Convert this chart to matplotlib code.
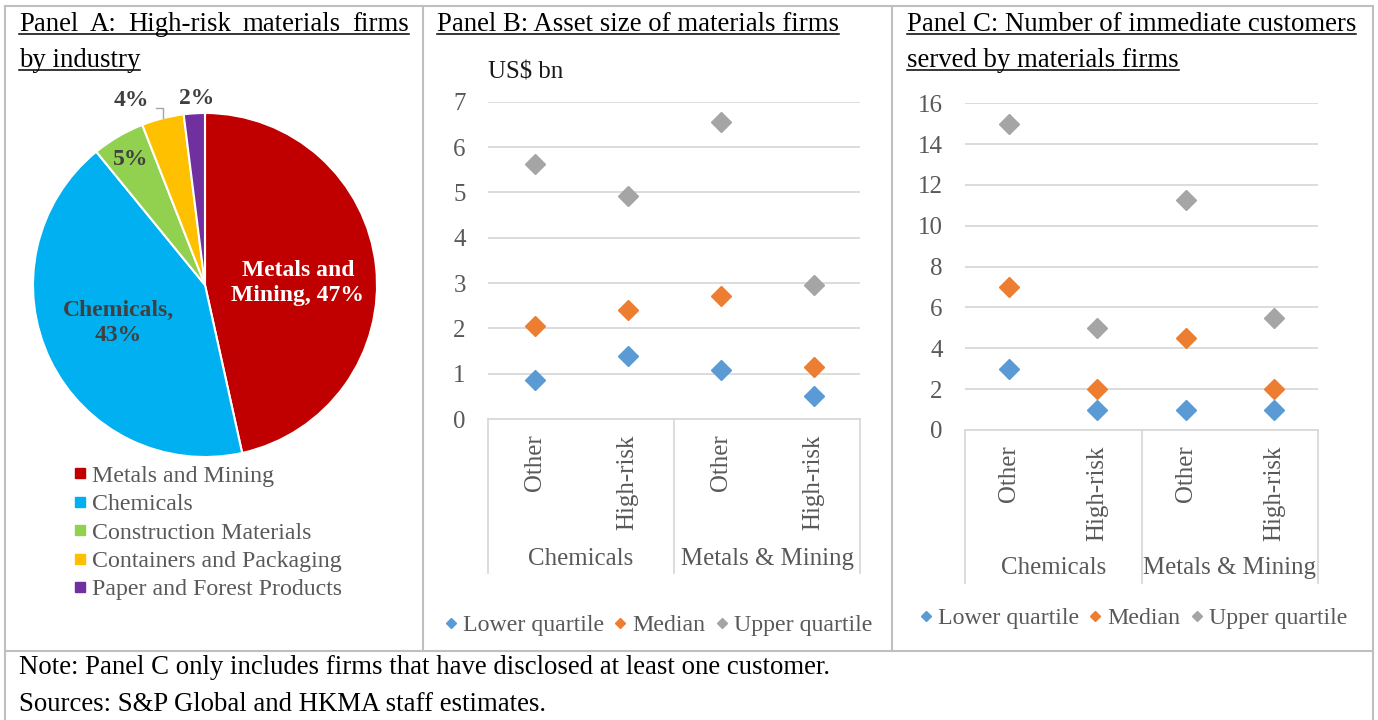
import matplotlib
matplotlib.use('Agg')
import matplotlib.pyplot as plt
from matplotlib.lines import Line2D
import matplotlib.transforms as mtransforms
import numpy as np

W, H = 1378, 720
DPI = 100
plt.rcParams['font.family'] = ['Liberation Serif', 'DejaVu Serif']

# ---------------- data ----------------
industries = ['Metals and Mining', 'Chemicals', 'Construction Materials',
              'Containers and Packaging', 'Paper and Forest Products']
shares = [47, 43, 5, 4, 2]
pie_colors = ['#c00000', '#00b0f0', '#92d050', '#ffc000', '#7030a0']
pie_labels = ['Metals and\nMining, 47%', 'Chemicals,\n43%', '5%', '4%', '2%']

groups = ['Chemicals', 'Metals & Mining']
subcats = ['Other', 'High-risk', 'Other', 'High-risk']
series_names = ['Lower quartile', 'Median', 'Upper quartile']
series_colors = ['#5b9bd5', '#ed7d31', '#a5a5a5']

asset_lower = [0.86, 1.39, 1.08, 0.51]
asset_median = [2.06, 2.41, 2.72, 1.15]
asset_upper = [5.62, 4.91, 6.56, 2.96]
asset_ticks = [0, 1, 2, 3, 4, 5, 6, 7]

cust_lower = [3, 1, 1, 1]
cust_median = [7, 2, 4.5, 2]
cust_upper = [15, 5, 11.25, 5.5]
cust_ticks = [0, 2, 4, 6, 8, 10, 12, 14, 16]

title_a = 'Panel A: High-risk materials firms'
title_a2 = 'by industry'
title_b = 'Panel B: Asset size of materials firms'
title_c = 'Panel C: Number of immediate customers'
title_c2 = 'served by materials firms'
note_lines = ['Note: Panel C only includes firms that have disclosed at least one customer.',
              'Sources: S&P Global and HKMA staff estimates.']

# ---------------- figure ----------------
fig = plt.figure(figsize=(W / DPI, H / DPI), dpi=DPI)
fig.patch.set_facecolor('white')
renderer = fig.canvas.get_renderer()

GRID = '#d9d9d9'
TICKC = '#595959'
BORDER = '#bfbfbf'
TITLE_FS = 19.25
TICK_FS = 17.9
LEG_FS = 17.2


def fx(x):
    return x / W


def fy(y):
    return 1 - y / H


def px_axes(x0, y0, x1, y1):
    return fig.add_axes([fx(x0), fy(y1), (x1 - x0) / W, (y1 - y0) / H])


def fig_line(xs, ys, color=BORDER, lw=1.5):
    fig.add_artist(Line2D([fx(x) for x in xs], [fy(y) for y in ys],
                          transform=fig.transFigure, color=color, lw=lw))


# table borders
fig_line([5, 1373], [6, 6])
fig_line([5, 1373], [651, 651])
fig_line([5, 5], [6, 720])
fig_line([1373, 1373], [6, 720])
fig_line([423, 423], [6, 651])
fig_line([892, 892], [6, 651])


def text_width_px(t):
    return t.get_window_extent(renderer).width


def title_line(x, base, text, justify_to=None):
    if justify_to is None:
        t = fig.text(fx(x), fy(base), text, fontsize=TITLE_FS, color='black',
                     va='baseline', ha='left')
        w = text_width_px(t)
    else:
        words = text.split(' ')
        ts = [fig.text(fx(x), fy(base), wd, fontsize=TITLE_FS, color='black',
                       va='baseline', ha='left') for wd in words]
        widths = [text_width_px(t) for t in ts]
        gap = (justify_to - x - sum(widths)) / (len(words) - 1)
        cur = x
        for t, wd in zip(ts, widths):
            t.set_x(fx(cur))
            cur += wd + gap
        w = justify_to - x
    fig_line([x, x + w], [base + 2.5, base + 2.5], color='black', lw=1.1)


title_line(19, 31, title_a, justify_to=409)
title_line(19, 67, title_a2)
title_line(437, 31, title_b)
title_line(907, 31, title_c)
title_line(907, 67, title_c2)

for i, line in enumerate(note_lines):
    fig.text(fx(19), fy(674 + 37 * i), line, fontsize=TITLE_FS, color='black',
             va='baseline', ha='left')

# ---------------- Panel A: pie ----------------
cx, cy, R = 205, 285, 172
axp = px_axes(cx - R, cy - R, cx + R, cy + R)
wedges, _ = axp.pie(shares, colors=pie_colors, startangle=90, counterclock=False,
                    wedgeprops=dict(edgecolor='white', linewidth=1.5))
axp.set_xlim(-1, 1)
axp.set_ylim(-1, 1)
axp.set_aspect('equal')
axp.axis('off')

label_pos = [(0.54, 0.01), (-0.506, -0.22), (-0.43, 0.727), (-0.427, 1.07), (-0.047, 1.087)]
label_cols = ['white', '#404040', '#404040', '#404040', '#404040']
for lab, (lx, ly), lc in zip(pie_labels, label_pos, label_cols):
    axp.text(lx, ly, lab, ha='center', va='center', fontsize=17, fontweight='bold',
             color=lc, linespacing=1.25, clip_on=False)

# leader line for the 4% label
wy = wedges[3]
mid = np.deg2rad((wy.theta1 + wy.theta2) / 2)
ex, ey = np.cos(mid), np.sin(mid)
axp.plot([-0.285, ex, ex], [1.029, 1.029, ey], color='#a6a6a6', lw=1.0, clip_on=False)

handles = [Line2D([], [], ls='none', marker='s', ms=6.5, color=c) for c in pie_colors]
axp.legend(handles, industries, loc='upper left',
           bbox_to_anchor=(fx(73), fy(465)), bbox_transform=fig.transFigure,
           frameon=False, fontsize=LEG_FS, labelcolor=TICKC, handlelength=0.6,
           handletextpad=0.2, borderpad=0, borderaxespad=0, labelspacing=0.28)


# ---------------- Panels B and C ----------------
def scatter_panel(box, lower, median, upper, ticks, box_bottom, group_y, leg_center):
    x0, y0, x1, y1 = box
    ax = px_axes(x0, y0, x1, y1)
    xs = np.arange(len(subcats))
    for vals, name, col in zip([lower, median, upper], series_names, series_colors):
        ax.plot(xs, vals, ls='none', marker='D', ms=10.5, color=col, label=name,
                zorder=3, clip_on=False)
    ax.set_xlim(-0.5, len(subcats) - 0.5)
    ax.set_ylim(ticks[0], ticks[-1])
    ax.set_yticks(ticks)
    ax.yaxis.grid(True, color=GRID, lw=1.3)
    ax.set_axisbelow(True)
    for s in ['left', 'right', 'top']:
        ax.spines[s].set_visible(False)
    ax.spines['bottom'].set_color(GRID)
    ax.spines['bottom'].set_linewidth(1.3)
    ax.tick_params(axis='y', length=0, pad=16, labelsize=TICK_FS, labelcolor=TICKC)
    ax.set_xticks(xs, subcats, rotation=90)
    ax.tick_params(axis='x', length=0, pad=11, labelsize=TICK_FS, labelcolor=TICKC)
    trans = mtransforms.blended_transform_factory(ax.transData, ax.transAxes)
    hpx = y1 - y0
    depth = (box_bottom - y1) / hpx
    for xv in [-0.5, 1.5, 3.5]:
        ax.plot([xv, xv], [0, -depth], transform=trans, clip_on=False, color=GRID, lw=1.3)
    for gi, g in enumerate(groups):
        ax.text(gi * 2 + 0.5, -(group_y - y1) / hpx, g, transform=trans, ha='center',
                va='center', fontsize=TICK_FS, color=TICKC)
    ax.legend(loc='center', bbox_to_anchor=(fx(leg_center[0]), fy(leg_center[1])),
              bbox_transform=fig.transFigure, ncol=3, frameon=False, fontsize=LEG_FS,
              labelcolor=TICKC, handlelength=0.6, handletextpad=0.2, columnspacing=0.4,
              markerscale=0.45, borderpad=0)
    return ax


axb = scatter_panel((488, 101.7, 860, 419), asset_lower, asset_median, asset_upper,
                    asset_ticks, 573, 559, (658, 625))
axb.text(0, 1.0 + 29 / 317.3, 'US$ bn', transform=axb.transAxes, ha='left', va='center',
         fontsize=TICK_FS, color='#1a1a1a')

axc = scatter_panel((965, 103.3, 1318, 430), cust_lower, cust_median, cust_upper,
                    cust_ticks, 583, 568, (1133, 618))

fig.savefig('out.png', dpi=DPI, facecolor='white')
